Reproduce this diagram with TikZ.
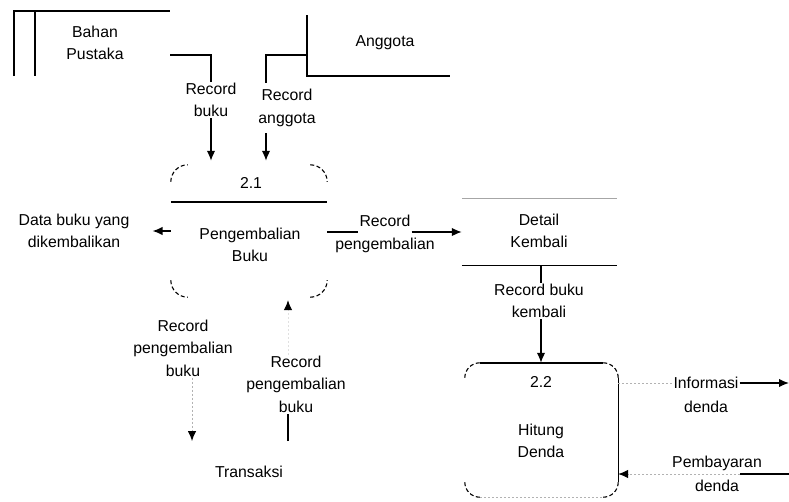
\documentclass[tikz,border=0pt]{standalone}
\usepackage{fontspec}
\setmainfont{Liberation Sans}
\usetikzlibrary{arrows.meta}
\begin{document}
\begin{tikzpicture}[x=1pt,y=-1pt,
  lbl/.style={align=center,font=\fontsize{15.8}{22.5}\selectfont,inner sep=1pt},
  ln/.style={line width=1.4pt},
  tip/.style={-{Latex[length=10pt,width=8.5pt,color=black]}},
  flow/.style={ln,tip},
  faint/.style={line width=1pt,draw=black!30,dash pattern=on 2pt off 2pt},
  faintflow/.style={faint,tip},
  corner/.style={line width=1.1pt,dash pattern=on 4pt off 2.5pt},
  box/.style={draw=none,inner sep=0pt}
]
\useasboundingbox (0,0) rectangle (789,501);

% ---------- Bahan Pustaka (data store)
\node[lbl] (bahan) at (95,43) {Bahan\\Pustaka};
\draw[ln] (14,76) -- (14,11) -- (170,11);
\draw[ln] (35,11) -- (35,76);
\coordinate (bahanout) at (170,55);

% ---------- Anggota (data store)
\node[lbl] (ang) at (385,43) {Anggota};
\draw[ln] (307,15) -- (307,76) -- (450,76);
\coordinate (angout) at (307,55);

% ---------- Process 2.1
\node[box,minimum width=156pt,minimum height=132pt] (p21) at (249,231) {};
\draw[corner,rounded corners=17pt] ([yshift=-17pt]p21.north west) -- (p21.north west) -- ([xshift=17pt]p21.north west);
\draw[corner,rounded corners=17pt] ([xshift=-17pt]p21.north east) -- (p21.north east) -- ([yshift=-17pt]p21.north east);
\draw[corner,rounded corners=17pt] ([yshift=17pt]p21.south west) -- (p21.south west) -- ([xshift=17pt]p21.south west);
\draw[corner,rounded corners=17pt] ([xshift=-17pt]p21.south east) -- (p21.south east) -- ([yshift=17pt]p21.south east);
\draw[ln] ([yshift=-37pt]p21.north west) -- ([yshift=-37pt]p21.north east);
\node[lbl] (p21id) at (251,183) {2.1};
\node[lbl] (p21name) at (250,245) {Pengembalian\\Buku};

% ---------- Record buku
\node[lbl] (rbuku) at (211,100) {Record\\buku};
\draw[ln] (bahanout) -| (rbuku.north);
\draw[flow,shorten >=4pt] (rbuku.south) -- (rbuku.south |- p21.north);

% ---------- Record anggota
\node[lbl] (rang) at (287,108) {Record\\anggota};
\coordinate (ra1) at (266,83);
\coordinate (ra2) at (266,133);
\draw[ln] (angout) -| (ra1);
\draw[flow,shorten >=4pt] (ra2) -- (ra2 |- p21.north);

% ---------- Data buku yang dikembalikan
\node[lbl] (dbk) at (74,231) {Data buku yang\\dikembalikan};
\draw[flow] (p21.west |- dbk) -- ([xshift=22pt]dbk.east);

% ---------- Detail Kembali (data store)
\node[box,minimum width=155pt,minimum height=66pt] (det) at (539.5,232) {};
\node[lbl] (dettxt) at (539,231) {Detail\\Kembali};
\draw[line width=0.8pt,draw=black!35] (det.north west) -- (det.north east);
\draw[ln] (det.south west) -- (det.south east);

% ---------- Record pengembalian
\node[lbl] (rp1) at (385,221) {Record};
\node[lbl] (rp2) at (385,245) {pengembalian};
\draw[ln] (p21.east |- 0,232) -- (rp1.west |- 0,232);
\draw[flow] (rp1.east |- 0,232) -- (det.west |- 0,232);

% ---------- Process 2.2
\node[box,minimum width=153pt,minimum height=134pt] (p22) at (541.5,430) {};
\draw[corner,rounded corners=15pt] ([yshift=-15pt]p22.north west) -- (p22.north west) -- ([xshift=15pt]p22.north west);
\draw[corner,rounded corners=15pt] ([xshift=-15pt]p22.north east) -- (p22.north east) -- ([yshift=-15pt]p22.north east);
\draw[corner,rounded corners=15pt] ([yshift=15pt]p22.south west) -- (p22.south west) -- ([xshift=15pt]p22.south west);
\draw[corner,rounded corners=15pt] ([xshift=-15pt]p22.south east) -- (p22.south east) -- ([yshift=15pt]p22.south east);
\draw[ln] ([xshift=15pt]p22.north west) -- ([xshift=-15pt]p22.north east);
\draw[ln] ([yshift=-15pt]p22.north east) -- ([yshift=15pt]p22.south east);
\draw[faint] ([xshift=15pt]p22.south west) -- ([xshift=-15pt]p22.south east);
\node[lbl] (p22id) at (541,382) {2.2};
\node[lbl] (p22name) at (541,441) {Hitung\\Denda};

% ---------- Record buku kembali
\node[lbl] (rbk) at (539,301) {Record buku\\kembali};
\draw[ln] (det.south -| 541,0) -- (rbk.north -| 541,0);
\draw[flow] (rbk.south -| 541,0) -- (p22.north -| 541,0);

% ---------- Informasi denda
\node[lbl] (inf1) at (706,383) {Informasi};
\node[lbl] (inf2) at (706,407) {denda};
\coordinate (infout) at (789,383);
\draw[faint] (p22.east |- inf1) -- (inf1.west);
\draw[flow] (inf1.east) -- (infout);

% ---------- Pembayaran denda
\node[lbl] (pb1) at (717,463) {Pembayaran};
\node[lbl] (pb2) at (717,486) {denda};
\coordinate (pbin) at (789,474);
\coordinate (pbmid) at (740,474);
\draw[ln] (pbin) -- (pbmid);
\draw[faintflow] (pbmid) -- (p22.east |- pbmid);

% ---------- Transaksi and its flows
\node[lbl] (rpb1) at (183,348) {Record\\pengembalian\\buku};
\node[lbl] (rpb2) at (296,384) {Record\\pengembalian\\buku};
\node[lbl] (trans) at (249,472) {Transaksi};
\coordinate (transtop) at (249,441);
\draw[faintflow] (rpb1.south -| 192,0) -- (transtop -| 192,0);
\draw[ln] (transtop -| 288,0) -- (rpb2.south -| 288,0);
\draw[faintflow,draw=black!12,shorten >=3pt] (rpb2.north -| 288,0) -- (p21.south -| 288,0);
\end{tikzpicture}
\end{document}
